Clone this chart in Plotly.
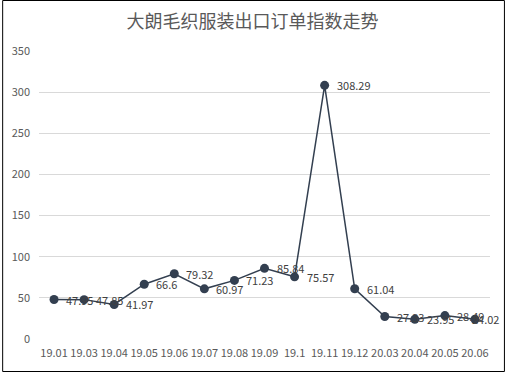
import plotly.graph_objects as go

categories = ["19.01", "19.03", "19.04", "19.05", "19.06", "19.07", "19.08", "19.09",
              "19.1", "19.11", "19.12", "20.03", "20.04", "20.05", "20.06"]
values = [47.95, 47.85, 41.97, 66.6, 79.32, 60.97, 71.23, 85.84,
          75.57, 308.29, 61.04, 27.33, 23.95, 28.49, 24.02]
labels = [f"{v:g}" for v in values]

W, H = 505, 372
L, R, T, B = 37, 15, 51, 33
pw, ph = W - L - R, H - T - B

fig = go.Figure()
fig.add_trace(go.Scatter(
    x=categories, y=values, mode="lines+markers",
    line=dict(color="#333F50", width=1.5),
    marker=dict(size=9, color="#333F50"),
    cliponaxis=False, hoverinfo="skip",
))

annotations = []
for i, (v, t) in enumerate(zip(values, labels)):
    last = i == len(values) - 1
    annotations.append(dict(
        x=i, y=v, xref="x", yref="y", text=t, showarrow=False,
        xanchor="left", yanchor="middle", xshift=-5 if last else 10,
        font=dict(size=11, color="#404040"),
    ))

fig.update_layout(
    width=W, height=H,
    margin=dict(l=L, r=R, t=T, b=B, pad=0),
    paper_bgcolor="white", plot_bgcolor="white",
    font=dict(family="Noto Sans CJK SC, sans-serif", color="#595959", size=11),
    title=dict(text="大朗毛织服装出口订单指数走势", x=0.5, xanchor="center",
               y=1 - 22 / H, yanchor="middle",
               font=dict(size=18, color="#595959")),
    showlegend=False,
    annotations=annotations,
    xaxis=dict(type="category", range=[-0.5, 14.5], showgrid=False, zeroline=False,
               showline=False, ticks="", ticklabelstandoff=6,
               tickfont=dict(size=11, color="#595959")),
    yaxis=dict(range=[0, 350], dtick=50, showgrid=True, gridcolor="#D9D9D9",
               gridwidth=1, zeroline=False, showline=False, ticks="",
               ticklabelstandoff=8,
               tickfont=dict(size=11, color="#595959")),
    shapes=[dict(type="rect", xref="paper", yref="paper",
                 x0=(0.5 - L) / pw, x1=(W - 0.5 - L) / pw,
                 y0=(H - B - (H - 0.5)) / ph, y1=(H - B - 0.5) / ph,
                 line=dict(color="black", width=1), fillcolor="rgba(0,0,0,0)",
                 layer="above")],
)

fig.write_html("out.html", config={"displayModeBar": False},
               post_script="document.body.style.margin='0';document.body.style.overflow='hidden';")
